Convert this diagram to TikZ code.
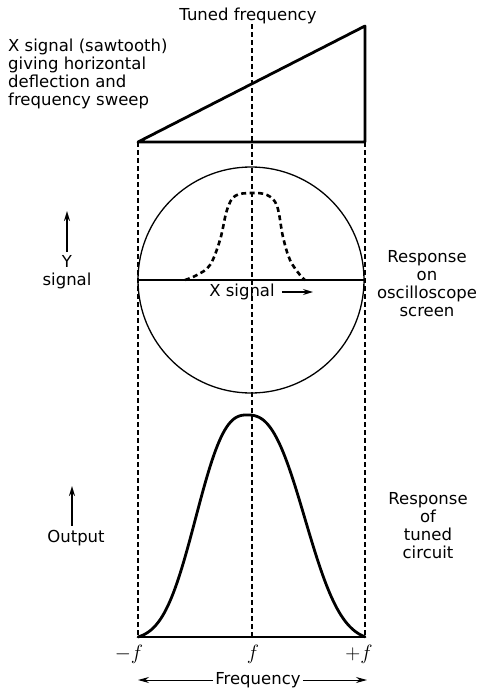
\documentclass[tikz,border=0pt]{standalone}
\usepackage{fontspec}
\setmainfont{DejaVu Sans}
\usetikzlibrary{arrows.meta, positioning}
\tikzset{
    heavy_line/.style={line width=2.8pt, line cap=round, line join=round},
    scope_line/.style={line width=1.3pt},
    guide_dash/.style={line width=1.1pt, dash pattern=on 5pt off 3pt},
    trace_dash/.style={line width=2.6pt, dash pattern=on 5pt off 3.5pt},
    lbl/.style={font=\fontsize{16.5}{18}\selectfont, align=center, inner sep=0pt},
    lbl_left/.style={lbl, align=left, anchor=west},
    lbl_math/.style={font=\fontsize{21}{22}\selectfont, inner sep=0pt},
    sig_arrow/.style={-{Stealth[length=10pt,width=6pt]}, line width=1.6pt},
    freq_arrow/.style={-{Stealth[length=11pt,width=6pt]}, line width=1pt}
}
\begin{document}
\begin{tikzpicture}[x=1pt, y=-1pt]
    \useasboundingbox (0,0) rectangle (478,688);
    % frequency axis
    \coordinate (f_lo) at (138,637);
    \coordinate (f_mid) at (252,637);
    \coordinate (f_hi) at (365,637);
    % sawtooth
    \coordinate (saw_lo) at (138,142);
    \coordinate (saw_corner) at (365,142);
    \coordinate (saw_top) at (365,26);
    \draw[heavy_line] (saw_lo) -- (saw_top) -- (saw_corner) -- cycle;
    \node[lbl_left] (saw_lbl) at (8,74) {X signal (sawtooth)\\giving horizontal\\deflection and\\frequency sweep};

    \node[lbl] (tuned_lbl) at (248,16) {Tuned frequency};
    \draw[guide_dash] (tuned_lbl.south -| f_mid) -- (f_mid);
    \draw[guide_dash] (saw_lo) -- (f_lo);
    \draw[guide_dash] (saw_corner) -- (f_hi);

    % oscilloscope screen
    \node[draw, circle, scope_line, inner sep=0pt, minimum size=226pt] (screen) at (251,280) {};
    \draw[scope_line] (screen.west) -- (screen.east);
    \draw[trace_dash] plot[smooth, tension=0.6] coordinates {(185,280) (197,275) (210,265) (220,240) (227,210) (235,196) (251,193) (267,195) (277,206) (283,237) (290,260) (300,275) (305,280)};
    \node[lbl] (xsig) at (242,292) {X signal};
    \coordinate (xsig_tip) at (313,292);
    \draw[sig_arrow, line width=1.2pt] ([xshift=7pt]xsig.east) -- (xsig_tip);

    \node[lbl] (ysig) at (67,272) {Y\\signal};
    \coordinate (ysig_tip) at (67,211);
    \draw[sig_arrow] ([yshift=3pt]ysig.north) -- (ysig_tip);
    \node[lbl] (screen_lbl) at (427,284) {Response\\on\\oscilloscope\\screen};

    % tuned circuit response
    \draw[scope_line] (f_lo) -- (f_hi);
    \draw[heavy_line] plot[domain=138:247, samples=60] (\x, {637-222*(exp(-((247.01-\x)/62)^2.6)-0.013)/0.987})
        -- plot[domain=247:365, samples=60] (\x, {637-222*(exp(-((\x-246.99)/70)^2.6)-0.02)/0.98});
    \node[lbl] (out_lbl) at (76,538) {Output};
    \coordinate (out_tip) at (72,486);
    \draw[sig_arrow] ([yshift=4pt]out_lbl.north -| out_tip) -- (out_tip);
    \node[lbl] (tuned_resp) at (428,526) {Response\\of\\tuned\\circuit};

    % frequency scale
    \node[lbl_math] at (129,654) {$-f$};
    \node[lbl_math] at (253,654) {$f$};
    \node[lbl_math] at (359,654) {$+f$};
    \node[lbl] (freq_lbl) at (258,680) {Frequency};
    \coordinate (freq_lo) at (138,680);
    \coordinate (freq_hi) at (367,680);
    \draw[freq_arrow] ([xshift=-2pt]freq_lbl.west) -- (freq_lo);
    \draw[freq_arrow] ([xshift=2pt]freq_lbl.east) -- (freq_hi);
\end{tikzpicture}
\end{document}
